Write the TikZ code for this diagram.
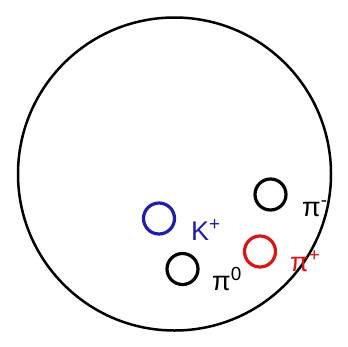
\documentclass[tikz,border=0pt]{standalone}
\usepackage{fontspec}
\setmainfont{Liberation Sans}
\definecolor{kblue}{RGB}{30,30,170}
\definecolor{pired}{RGB}{220,20,20}
\begin{document}
\begin{tikzpicture}[x=1pt,y=-1pt,
  track/.style={draw,line width=3.2pt,circle,minimum size=31pt,inner sep=0pt},
  lbl/.style={font=\fontsize{27}{29}\selectfont,inner sep=0pt,anchor=base west}]
\useasboundingbox (0,0) rectangle (348,346);
\node[draw,circle,line width=2.5pt,minimum size=313pt,inner sep=0pt] (det) at (174.5,174) {};
\node[track,draw=kblue] (k) at (159,218.5) {};
\node[track] (pm) at (270.5,194.5) {};
\node[track,draw=pired] (pp) at (260,251.5) {};
\node[track] (p0) at (182.5,269) {};
\node[lbl,text=kblue] (kl) at (191,240) {K\textsuperscript{+}};
\node[lbl] (pml) at (302,216) {π\textsuperscript{-}};
\node[lbl,text=pired] (ppl) at (290,271) {π\textsuperscript{+}};
\node[lbl] (p0l) at (212,290) {π\textsuperscript{0}};
\end{tikzpicture}
\end{document}
